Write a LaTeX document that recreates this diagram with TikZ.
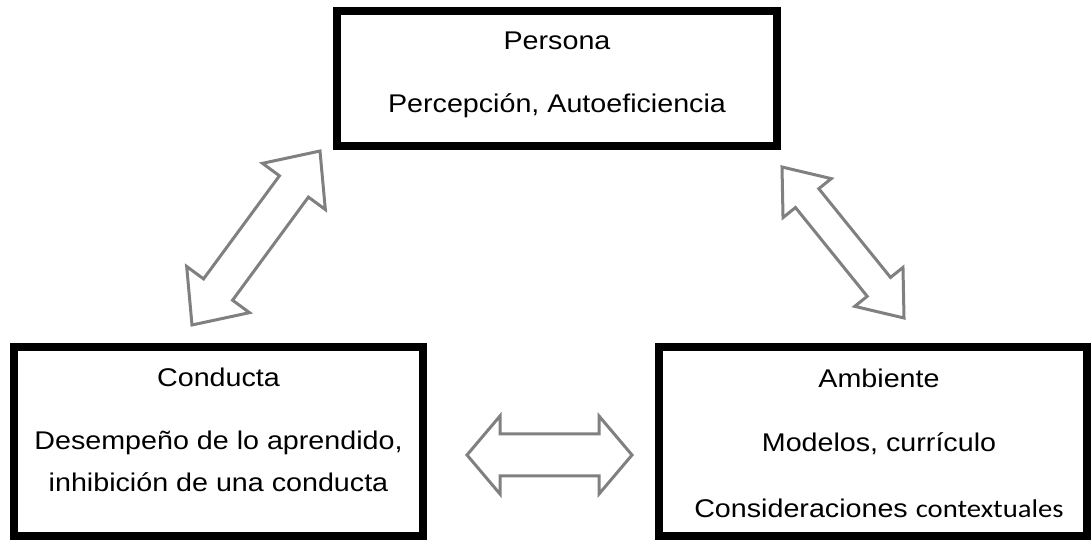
\documentclass[tikz,border=0pt]{standalone}
\usepackage{fontspec}
\setmainfont{Liberation Sans}[FakeStretch=1.12]
\newfontfamily\calfont{Carlito}[FakeStretch=1.12]
\usetikzlibrary{calc}
\definecolor{arrowgray}{RGB}{128,128,128}
\tikzset{
  bigbox/.style={draw=black, line width=8pt, rectangle, inner sep=0pt, fill=none},
  txt/.style={anchor=base, inner sep=0pt, font=\fontsize{25.6}{30}\selectfont},
  arrowline/.style={draw=arrowgray, line width=3pt, line join=miter, fill=white}
}
\newcommand\dblarrow[5]{%
  \draw[arrowline] let \p1=($(#2)-(#1)$), \n1={atan2(\y1,\x1)}, \n2={veclen(\x1,\y1)} in
   [shift={(#1)}, rotate=\n1]
   (0,0) -- (#3,#4) -- (#3,#5) -- (\n2-#3,#5) -- (\n2-#3,#4) -- (\n2,0)
   -- (\n2-#3,-#4) -- (\n2-#3,-#5) -- (#3,-#5) -- (#3,-#4) -- cycle;}
\begin{document}
\begin{tikzpicture}[x=1pt,y=1pt]
\useasboundingbox (0,0) rectangle (1092,540);
% boxes
\node[bigbox, minimum width=440pt, minimum height=135pt] (persona) at (557,461.5) {};
\node[bigbox, minimum width=409pt, minimum height=189pt] (conducta) at (218.5,98.5) {};
\node[bigbox, minimum width=428pt, minimum height=189pt] (ambiente) at (873,98.5) {};
% texts
\node[txt] (p1) at (557,490) {Persona};
\node[txt] (p2) at (557,427) {Percepción, Autoeficiencia};
\node[txt] (c1) at (218.5,153) {Conducta};
\node[txt] (c2) at (218.5,90) {Desempeño de lo aprendido,};
\node[txt] (c3) at (218.5,48) {inhibición de una conducta};
\node[txt] (a1) at (879,152) {Ambiente};
\node[txt] (a2) at (879,88) {Modelos, currículo};
\node[txt] (a3) at (879,22) {Consideraciones {\calfont contextuales}};
% arrow tips
\coordinate (lA) at (192,215);
\coordinate (lB) at (320,389);
\coordinate (rA) at (782,373);
\coordinate (rB) at (904,222);
\coordinate (hA) at (467,85);
\coordinate (hB) at (632,85);
\dblarrow{lA}{lB}{44}{39}{18}
\dblarrow{rA}{rB}{40}{31}{15}
\dblarrow{hA}{hB}{33}{39}{21}
\end{tikzpicture}
\end{document}
